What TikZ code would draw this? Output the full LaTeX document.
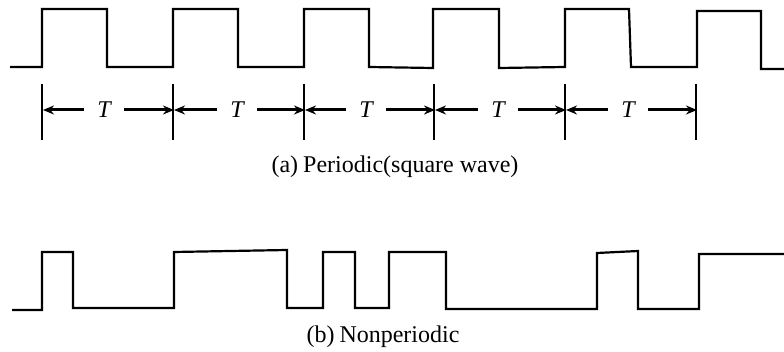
\documentclass[tikz,border=0pt]{standalone}
\usepackage{fontspec}
\setmainfont{Liberation Serif}
\usetikzlibrary{arrows.meta}
\tikzset{
  wave/.style={line width=2.2pt,line join=miter},
  tlabel/.style={font=\fontsize{24}{26}\selectfont\itshape,inner sep=0pt,minimum width=40pt},
  caption/.style={font=\fontsize{24}{26}\selectfont,inner sep=0pt}}
\begin{document}
\begin{tikzpicture}[x=1pt,y=-1pt,
  tickline/.style={line width=1.8pt},
  dimarrow/.style={line width=3pt,arrows={-Stealth[length=11pt,width=9pt]}}]
\useasboundingbox (0,0) rectangle (784,352);
% periodic wave
\draw[wave] (10,67) -- (42,67) -- (42,9) -- (107,9) -- (107,67) -- (173,67) -- (173,9) -- (238,9) -- (238,67)
  -- (304,67) -- (304,9) -- (369,9) -- (369,67) -- (433,68) -- (433,9) -- (499,9) -- (499,68) -- (565,67)
  -- (565,9) -- (629,9) -- (631,67) -- (697,67) -- (697,11) -- (761,11) -- (761,69) -- (784,69);
% ticks
\coordinate (u0) at (42,84);  \coordinate (d0) at (42,140);  \coordinate (a0) at (43,110);
\coordinate (u1) at (173,84); \coordinate (d1) at (173,140); \coordinate (a1) at (174,110);
\coordinate (u2) at (304,84); \coordinate (d2) at (304,140); \coordinate (a2) at (305,110);
\coordinate (u3) at (434,84); \coordinate (d3) at (434,140); \coordinate (a3) at (435,110);
\coordinate (u4) at (565,84); \coordinate (d4) at (565,140); \coordinate (a4) at (566,110);
\coordinate (u5) at (696,84); \coordinate (d5) at (696,140); \coordinate (a5) at (697,110);
\draw[tickline] (u0) -- (d0);
\draw[tickline] (u1) -- (d1);
\draw[tickline] (u2) -- (d2);
\draw[tickline] (u3) -- (d3);
\draw[tickline] (u4) -- (d4);
\draw[tickline] (u5) -- (d5);
% T labels and arrows
\node[tlabel] (T1) at (104,110) {T};
\node[tlabel] (T2) at (237,110) {T};
\node[tlabel] (T3) at (366,110) {T};
\node[tlabel] (T4) at (498,110) {T};
\node[tlabel] (T5) at (628,110) {T};
\draw[dimarrow] (T1.west) -- (a0);
\draw[dimarrow] (T1.east) -- (a1);
\draw[dimarrow] (T2.west) -- (a1);
\draw[dimarrow] (T2.east) -- (a2);
\draw[dimarrow] (T3.west) -- (a2);
\draw[dimarrow] (T3.east) -- (a3);
\draw[dimarrow] (T4.west) -- (a3);
\draw[dimarrow] (T4.east) -- (a4);
\draw[dimarrow] (T5.west) -- (a4);
\draw[dimarrow] (T5.east) -- (a5);
\node[caption] (capa) at (395,167) {(a)\hspace{5pt}Periodic(square wave)};
% nonperiodic wave
\draw[wave] (12,310) -- (42,310) -- (42,252) -- (73,252) -- (73,308) -- (174,308) -- (174,252) -- (287,250)
  -- (287,308) -- (323,308) -- (323,252) -- (355,252) -- (355,308) -- (389,308) -- (389,252) -- (446,252)
  -- (446,309) -- (597,309) -- (597,253) -- (638,251) -- (638,309) -- (699,309) -- (699,254) -- (784,254);
\node[caption] (capb) at (383,337) {(b)\hspace{5pt}Nonperiodic};
\end{tikzpicture}
\end{document}
